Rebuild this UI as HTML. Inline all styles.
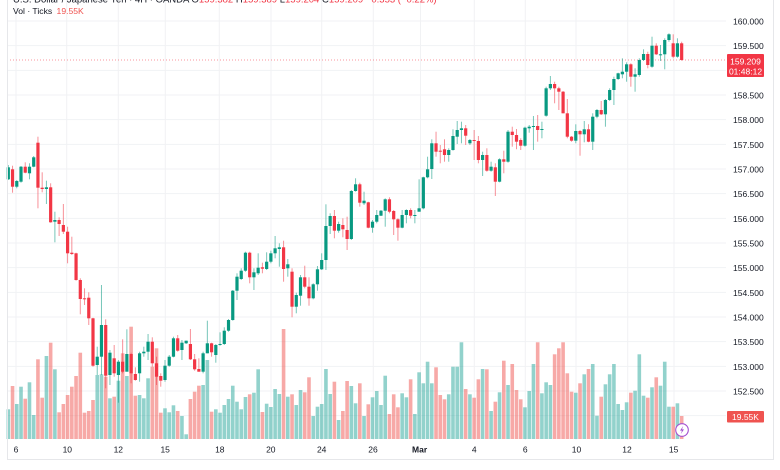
<!DOCTYPE html>
<html>
<head>
<meta charset="utf-8">
<style>
html,body{margin:0;padding:0;background:#fff;}
body{width:780px;height:470px;overflow:hidden;}
svg{display:block;font-family:"Liberation Sans",sans-serif;}
</style>
</head>
<body>
<svg width="780" height="470" viewBox="0 0 780 470" xmlns="http://www.w3.org/2000/svg">
<rect x="0" y="0" width="780" height="470" fill="#fff"/>
<g id="grid" stroke="#f1f2f4" stroke-width="1"></g>
<g id="vol"></g>
<line x1="7" y1="60" x2="726" y2="60" stroke="#f23645" stroke-width="0.8" stroke-dasharray="1,2" opacity="0.7"/>
<g id="cdl"></g>
<line x1="7.5" y1="0" x2="7.5" y2="459" stroke="#e6e7ea" stroke-width="1"/>
<line x1="7" y1="459.5" x2="774" y2="459.5" stroke="#e6e7ea" stroke-width="1"/>
<line x1="773.5" y1="0" x2="773.5" y2="459" stroke="#e6e7ea" stroke-width="1"/>
<text x="13" y="2.5" font-size="9.5" fill="#131722">U.S. Dollar / Japanese Yen · 4H · OANDA O<tspan fill="#f23645">159.382</tspan> H<tspan fill="#f23645">159.389</tspan> L<tspan fill="#f23645">159.204</tspan> C<tspan fill="#f23645">159.209</tspan> <tspan fill="#f23645">−0.353 (−0.22%)</tspan></text>
<text x="13" y="14" font-size="8.6" fill="#131722">Vol · Ticks <tspan fill="#ef5350" dx="2">19.55K</tspan></text>
<g font-size="8.5" fill="#131722">
<text x="733" y="24.5">160.000</text>
<text x="733" y="49.2">159.500</text>
<text x="733" y="98.5">158.500</text>
<text x="733" y="123.2">158.000</text>
<text x="733" y="147.8">157.500</text>
<text x="733" y="172.5">157.000</text>
<text x="733" y="197.2">156.500</text>
<text x="733" y="221.8">156.000</text>
<text x="733" y="246.5">155.500</text>
<text x="733" y="271.2">155.000</text>
<text x="733" y="295.8">154.500</text>
<text x="733" y="320.5">154.000</text>
<text x="733" y="345.2">153.500</text>
<text x="733" y="369.8">153.000</text>
<text x="733" y="394.5">152.500</text>
</g>
<rect x="727" y="54" width="37" height="23" fill="#f23645" rx="1"/>
<text x="745.5" y="64.3" font-size="8.5" fill="#fff" text-anchor="middle">159.209</text>
<text x="745.5" y="74.3" font-size="8.5" fill="#fff" text-anchor="middle">01:48:12</text>
<rect x="727" y="411" width="37" height="11.5" fill="#ef5350" rx="1"/>
<text x="745.5" y="419.8" font-size="8.5" fill="#fff" text-anchor="middle">19.55K</text>
<g font-size="8.5" fill="#131722" text-anchor="middle">
<text x="16" y="452.5">6</text>
<text x="67.3" y="452.5">10</text>
<text x="118.3" y="452.5">12</text>
<text x="165.2" y="452.5">15</text>
<text x="219.8" y="452.5">18</text>
<text x="270.8" y="452.5">20</text>
<text x="321.7" y="452.5">24</text>
<text x="373" y="452.5">26</text>
<text x="419.6" y="452.5" font-weight="bold">Mar</text>
<text x="474.3" y="452.5">4</text>
<text x="525.2" y="452.5">6</text>
<text x="576.5" y="452.5">10</text>
<text x="627" y="452.5">12</text>
<text x="673.6" y="452.5">15</text>
</g>
<circle cx="682" cy="430" r="6.3" fill="#fff" stroke="#a34fd0" stroke-width="1.1"/>
<path d="M683.2,426 L680,430.6 L682,430.6 L680.8,434 L684,429.4 L682,429.4 Z" fill="#a34fd0"/>
</svg>
<script>
var S="167.3 179.3 165 180 1 409.3|169.3 186.7 165.7 192.7 0 386|181 186.7 180 188.3 1 404|166.7 181.7 166 182.7 1 386.7|166.7 172.7 162.3 173.3 0 398.7|166.7 173.3 163.3 179.3 1 382.3|157.3 166.7 156 167.3 1 415|142.7 187.7 136.7 208.3 0 359.3|187.7 189 172.3 192.3 0 397.7|187.3 189 180.7 204 1 356|"+
"187.3 222.3 183.3 222.7 0 342.7|220 221.7 211.7 242.3 1 369.3|220 224 217.3 236 0 412.3|225 231.7 204 234 0 404|231.7 253.3 226.7 263.3 0 395|252.7 254 236.7 255 0 386.7|253.3 280 252.7 280.7 0 376|280 299 278.3 314.3 0 352.7|298.3 299.3 288.3 305 0 412.7|297.7 318.3 292.3 325 0 411|"+
"318.3 365.7 317.7 366.7 0 400|356.7 365 346.7 375 1 375|325 356.7 285 375 1 374.3|325 375.7 319.3 388.3 0 376.7|352.7 375 350 385 1 398.3|358.3 373.3 345 376.7 0 396.7|361.7 375 360 402.7 1 380.7|361.7 371.7 339.3 373.3 0 353.3|354 371.7 329.3 371.7 1 376|354 373.3 352.7 383.3 0 326.7|"+
"374 380 367.3 380.7 0 395.7|353.3 373.3 351.7 381.7 1 395|351.7 353.3 346.7 356.7 1 398.3|341.7 351.7 334 360 1 378.3|341.7 363.3 337.3 366.7 0 366.7|363.3 376.7 356.7 385 0 348.3|376 380.7 373.3 386.7 0 412.7|365.7 380 360 381.7 1 408.3|356.7 365.7 355 366.7 1 412.3|338.3 356.7 336.7 357.3 1 405.3|"+
"338.3 350.7 335 351.7 0 411|342.7 350 340 360 1 416|340.7 343.3 340.7 344 1 434.3|344 359.3 329 360 0 399|359.3 369.3 354 370.7 0 391.7|369 371.7 358.3 371.7 0 385.7|353.3 371.7 351.7 373.3 1 385|343.3 353.3 320.7 353.3 1 360|343.3 352.3 342.7 356.7 0 411.7|345 355 344 362.7 1 409.3|"+
"344 345 332.3 345.7 1 412.7|330.7 344 327.3 345 1 405|320 330.7 319 331.7 1 399|290.7 320 290 320.7 1 385.7|276.7 290.7 273.3 300 1 401.7|270.7 279 268.3 280 1 409.3|252.7 270.7 251.7 271.7 1 397|252.7 277.3 251.7 283.3 0 394.3|272.3 277.3 268.3 290 1 392.7|267.7 273.3 253.3 275 1 369.3|"+
"267.3 268.7 262.7 273.3 0 412|261.7 269 252.3 270 1 403.7|253.3 261.7 250.7 263.3 1 407|248.3 253.3 236 258.3 1 389|247.3 249 243.3 266.7 1 394|247.3 269 240.7 281.7 0 329|264.3 268.3 259 276.7 1 396.7|271.7 306.7 268.3 317.3 0 394.3|295 306.7 292.7 313.3 1 405|277.3 295.7 275 305.7 1 390|"+
"277.3 286.7 265.7 288.3 0 392.3|286.7 298.3 277.3 305.7 0 377.3|284.3 298.3 283.3 299.3 1 416|269.3 284.3 266 290.7 1 406.7|260 269.3 253.3 270 1 404|226 260 204.3 270 1 369|216 226 213.3 234 1 394|216 230.7 210 238.3 0 381.7|224 230.7 221.7 232.7 1 420|225 229.3 218.3 237.3 0 411|"+
"230 239 216.7 250 0 381|191 239 190 240 1 386|184.3 191 178.3 191.7 1 403.3|184.3 202.7 182.7 206.7 0 383.3|200.7 203.3 191.7 205 1 416|202.3 227.7 201.7 228.3 0 404.3|221.7 227.7 220 232.7 1 397.3|215 221.7 210 223.3 1 391|210.7 215.7 210 216 1 405|199.3 210.7 198.3 226.7 1 375.7|"+
"199.3 211.7 197.3 213.3 0 414|211 219.3 210 235 0 394.3|219.3 227.7 218.3 240.7 0 407.3|215 227.7 210 228.3 1 393.3|210 215 209.3 223.3 1 397.3|210 215.7 208.3 218.3 0 379.3|215 215.7 210 223.3 1 414|208.3 211.7 179.3 211.7 1 372.3|177.3 208.3 176.7 209.3 1 383.3|169.3 177.3 156.7 178.3 1 361.7|"+
"143.3 169 139.3 179 1 383.3|143.3 151.7 131.7 156.7 0 367.3|150.7 151.7 145 163.3 0 395|149.3 155 139.3 161.7 0 399.3|150 155 148.3 161.7 1 394.3|136 150 129.3 150.7 1 366.7|130 136.7 121 144 1 366.7|128.3 130 121.7 143.3 1 342.3|128.3 135.7 125 145 0 389|140 143.3 139 145 1 394.3|"+
"140 141 130 160 0 397.7|141 160 136 163.3 0 379.3|155 160 151.7 176 1 369|155 170.7 148.3 171.7 0 369.3|166.7 170.7 161.7 171.7 1 411|167.3 181.7 163.3 196 0 401.7|159.3 181.7 158.3 182.3 1 392.3|159.3 161.7 150.7 173.3 0 360.7|131.7 161.7 130 162.7 1 385|131.7 135 126.7 146.7 0 364|"+
"135 141.7 129 149.3 0 390|140 145.7 138.3 150 0 399.3|127.7 145.7 126.7 146.7 1 407.3|126.7 128.3 125 132.7 1 391|126 126.7 116 150 1 364|126 130 115 141.7 0 342.3|129 129.7 121.7 138.3 1 393.3|88.3 115.7 86.7 116.7 1 382.3|84 88.3 76 90 1 385|84 88.3 81.7 103.3 0 354.3|"+
"88.3 91.7 86.7 110 0 348.3|91.7 113.3 91 113.3 0 342.3|113.3 136.7 99 138.3 0 373.3|136.7 140.7 136 141.7 0 391.7|131 140.7 124.3 143.3 1 392.7|131 134.3 130 155.7 0 383.3|129.3 134.3 121 142.3 1 374.3|129.3 141.7 124.3 142.3 0 369|116.7 141.7 113.3 150 1 364|110 116.7 109 118.3 1 415.7|"+
"110 114.3 101 115 0 396.7|100 114.3 99 126.7 1 384.3|90 100 88.3 101 1 374.3|79 90 76.7 105 1 364|73.3 79 72.7 80 1 404|71.7 74.3 58.3 78.3 1 410|64.3 71.7 62.3 81.7 1 402.3|64.3 76.7 63.3 86.7 0 392.7|74.3 76.7 68.3 91.7 1 390.7|60 75 58.3 76.7 1 354.3|"+
"54 60 49.3 61 1 395.7|54 65 51.7 68.3 0 397.7|45.7 66.7 36.7 67.7 1 387.3|45.7 54.3 43.3 55 0 377.3|54.3 55 45 61 1 385.7|40 54.3 38.3 69.3 1 361.7|34.3 40 33.3 41.7 1 406.7|43.3 56.7 34.3 58.3 0 406.7|43.3 56.7 38.3 57.7 1 403.3|43.3 60 41.7 60.7 0 416";
var D=S.split("|").map(function(r){return r.split(" ").map(Number);});
var g="",v="",c="";
for(var k=0;k<=16;k++){var y=(21+k*24.667).toFixed(2);g+='<line x1="7" y1="'+y+'" x2="726" y2="'+y+'"/>';}
[16,66.7,118.3,165.3,219.3,271,321.7,373.3,420.5,474.3,525.3,576,627.7,674].forEach(function(x){g+='<line x1="'+x+'" y1="0" x2="'+x+'" y2="440"/>';});
D.forEach(function(d,i){
  var x=8.3+4.235*i, up=d[4]===1;
  var bc=up?"#089981":"#f23645";
  var vc=up?"rgba(38,166,154,0.5)":"rgba(239,83,80,0.5)";
  v+='<rect x="'+(x-1.8).toFixed(2)+'" y="'+d[5]+'" width="3.6" height="'+(439-d[5]).toFixed(2)+'" fill="'+vc+'"/>';
  c+='<line x1="'+x.toFixed(2)+'" y1="'+d[2]+'" x2="'+x.toFixed(2)+'" y2="'+d[3]+'" stroke="'+bc+'" stroke-width="1" opacity="0.55"/>';
  c+='<rect x="'+(x-1.6).toFixed(2)+'" y="'+d[0]+'" width="3.2" height="'+Math.max(1,d[1]-d[0]).toFixed(2)+'" fill="'+bc+'"/>';
});
document.getElementById("grid").innerHTML=g;
document.getElementById("vol").innerHTML=v;
document.getElementById("cdl").innerHTML=c;
</script>
</body>
</html>
